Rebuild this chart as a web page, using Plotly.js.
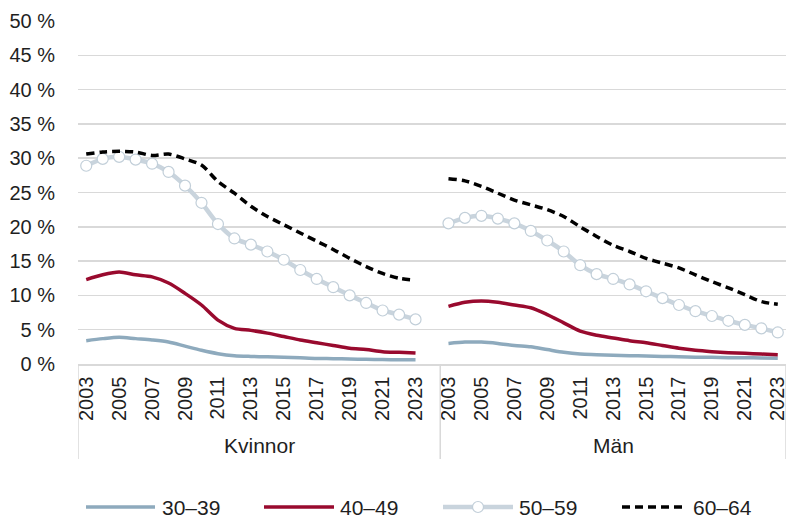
<!DOCTYPE html>
<html>
<head>
<meta charset="utf-8">
<script src="https://cdn.plot.ly/plotly-3.0.1.min.js"></script>
<style>
  html, body { margin: 0; padding: 0; background: #fff; }
  #chart { width: 790px; height: 518px; }
</style>
</head>
<body>
<div id="chart"></div>
<script>
// years on the x axis, same for both groups
var years = [2003, 2004, 2005, 2006, 2007, 2008, 2009, 2010, 2011, 2012, 2013,
             2014, 2015, 2016, 2017, 2018, 2019, 2020, 2021, 2022, 2023];
var groups = ['Kvinnor', 'Män'];
var seriesNames = ['30–39', '40–49', '50–59', '60–64'];

// Kvinnor, percent
var kv30 = [3.4, 3.7, 3.9, 3.7, 3.5, 3.2, 2.6, 2.0, 1.5, 1.2, 1.1, 1.05, 1.0, 0.9, 0.8, 0.78, 0.73, 0.68, 0.64, 0.63, 0.63];
var kv40 = [12.3, 13.0, 13.4, 13.0, 12.7, 11.8, 10.3, 8.6, 6.4, 5.2, 4.9, 4.5, 4.0, 3.5, 3.1, 2.7, 2.3, 2.1, 1.8, 1.7, 1.6];
var kv50 = [28.9, 29.9, 30.2, 29.8, 29.2, 28.0, 26.0, 23.5, 20.4, 18.3, 17.4, 16.4, 15.2, 13.7, 12.4, 11.2, 10.0, 8.9, 7.8, 7.2, 6.5];
var kv60 = [30.6, 30.9, 31.0, 30.9, 30.4, 30.6, 29.9, 29.0, 26.6, 24.9, 23.0, 21.5, 20.3, 19.1, 17.9, 16.7, 15.4, 14.2, 13.2, 12.5, 12.2];

// Män, percent
var man30 = [3.0, 3.2, 3.2, 3.0, 2.7, 2.5, 2.1, 1.7, 1.45, 1.36, 1.26, 1.21, 1.16, 1.1, 1.07, 1.0, 0.97, 0.92, 0.92, 0.87, 0.83];
var man40 = [8.4, 9.0, 9.2, 9.0, 8.6, 8.2, 7.2, 6.0, 4.8, 4.2, 3.8, 3.4, 3.1, 2.7, 2.3, 2.0, 1.8, 1.65, 1.55, 1.45, 1.36];
var man50 = [20.5, 21.3, 21.6, 21.2, 20.5, 19.4, 18.0, 16.4, 14.4, 13.1, 12.4, 11.6, 10.6, 9.6, 8.6, 7.7, 7.0, 6.3, 5.7, 5.2, 4.6];
var man60 = [27.0, 26.7, 25.9, 24.9, 23.9, 23.2, 22.5, 21.5, 20.0, 18.6, 17.3, 16.4, 15.4, 14.7, 14.0, 13.0, 12.0, 11.1, 10.1, 9.1, 8.7];

var font = 'Liberation Sans, Arial, sans-serif';
var txt = '#1f1f1f';
var grid = '#d9d9d9';

// Kvinnor occupy slots 0..20, one empty slot, Män 22..42
var gap = years.length + 1;
var kvX = years.map(function (y, i) { return i; });
var manX = years.map(function (y, i) { return i + gap; });

var styles = [
  { line: { color: '#8eaabd', width: 3.5, shape: 'spline', smoothing: 0.8 }, mode: 'lines' },
  { line: { color: '#990a2e', width: 3.5, shape: 'spline', smoothing: 0.8 }, mode: 'lines' },
  { line: { color: '#c9d4dd', width: 4.5, shape: 'spline', smoothing: 0.6 }, mode: 'lines+markers',
    marker: { symbol: 'circle', size: 11, color: '#ffffff', line: { color: '#c2cfd9', width: 1.2 } } },
  { line: { color: '#000000', width: 3.5, dash: '8px,5px', shape: 'spline', smoothing: 0.8 }, mode: 'lines' }
];

var kvData = [kv30, kv40, kv50, kv60];
var manData = [man30, man40, man50, man60];

var data = [];
seriesNames.forEach(function (name, s) {
  [[kvX, kvData[s]], [manX, manData[s]]].forEach(function (pair) {
    var t = {
      type: 'scatter',
      x: pair[0],
      y: pair[1],
      name: name,
      mode: styles[s].mode,
      line: styles[s].line,
      showlegend: false,
      hoverinfo: 'skip',
      cliponaxis: false
    };
    if (styles[s].marker) t.marker = styles[s].marker;
    data.push(t);
  });
});

// tick labels every second year
var tickvals = [], ticktext = [];
years.forEach(function (y, i) {
  if (i % 2 === 0) {
    tickvals.push(kvX[i]); ticktext.push(String(y));
  }
});
years.forEach(function (y, i) {
  if (i % 2 === 0) {
    tickvals.push(manX[i]); ticktext.push(String(y));
  }
});

var mL = 78, mR = 4, mT = 21, mB = 154;
var W = 790, H = 518;
var pw = W - mL - mR, ph = H - mT - mB;
function px2x(p) { return (p - mL) / pw; }
function py2y(p) { return (H - mB - p) / ph; }

var xMin = -0.5, xMax = manX[manX.length - 1] + 0.5, xSep = gap - 0.5;

var shapes = [];
// group separators below the axis
[xMin, xSep, xMax].forEach(function (xv) {
  shapes.push({ type: 'line', xref: 'x', yref: 'paper', x0: xv, x1: xv, y0: 0, y1: py2y(459),
    line: { color: grid, width: 1.5 } });
});

// hand made legend (long line samples like the original)
var legY = 507;
var legItems = [
  { x0: 86, x1: 155, tx: 160 },
  { x0: 264, x1: 334, tx: 338 },
  { x0: 443, x1: 513, tx: 517 },
  { x0: 622, x1: 687, tx: 691 }
];
var annotations = [];
legItems.forEach(function (it, s) {
  var st = styles[s].line;
  shapes.push({ type: 'line', xref: 'paper', yref: 'paper',
    x0: px2x(it.x0), x1: px2x(it.x1), y0: py2y(legY), y1: py2y(legY),
    line: { color: st.color, width: st.width, dash: st.dash || 'solid' } });
  if (styles[s].marker) {
    var cx = (it.x0 + it.x1) / 2, r = 5.5;
    shapes.push({ type: 'circle', xref: 'paper', yref: 'paper',
      x0: px2x(cx - r), x1: px2x(cx + r), y0: py2y(legY + r), y1: py2y(legY - r),
      fillcolor: '#ffffff', line: { color: '#c2cfd9', width: 1.2 } });
  }
  annotations.push({ xref: 'paper', yref: 'paper', x: px2x(it.tx), y: py2y(legY),
    xanchor: 'left', yanchor: 'middle', showarrow: false, text: seriesNames[s],
    font: { family: font, size: 21, color: txt } });
});

// group labels
annotations.push({ xref: 'x', yref: 'paper', x: (xMin + xSep) / 2, y: py2y(445),
  xanchor: 'center', yanchor: 'middle', showarrow: false, text: groups[0],
  font: { family: font, size: 21, color: txt } });
annotations.push({ xref: 'x', yref: 'paper', x: (xSep + xMax) / 2, y: py2y(445),
  xanchor: 'center', yanchor: 'middle', showarrow: false, text: groups[1],
  font: { family: font, size: 21, color: txt } });

var layout = {
  width: W,
  height: H,
  margin: { l: mL, r: mR, t: mT, b: mB, pad: 0 },
  paper_bgcolor: '#ffffff',
  plot_bgcolor: '#ffffff',
  showlegend: false,
  xaxis: {
    range: [xMin, xMax],
    tickmode: 'array',
    tickvals: tickvals,
    ticktext: ticktext,
    tickangle: -90,
    ticks: '',
    ticklabelstandoff: 3,
    ticklabeloverflow: 'allow',
    showgrid: false,
    zeroline: false,
    showline: true,
    linecolor: grid,
    linewidth: 1.5,
    tickfont: { family: font, size: 20, color: txt },
    fixedrange: true
  },
  yaxis: {
    range: [0, 50],
    dtick: 5,
    tick0: 0,
    ticksuffix: ' %',
    showgrid: true,
    gridcolor: grid,
    gridwidth: 1.5,
    zeroline: false,
    ticks: '',
    ticklabelstandoff: 22,
    tickfont: { family: font, size: 20, color: txt },
    fixedrange: true
  },
  shapes: shapes,
  annotations: annotations
};

Plotly.newPlot('chart', data, layout, { displayModeBar: false, staticPlot: true });
</script>
</body>
</html>
